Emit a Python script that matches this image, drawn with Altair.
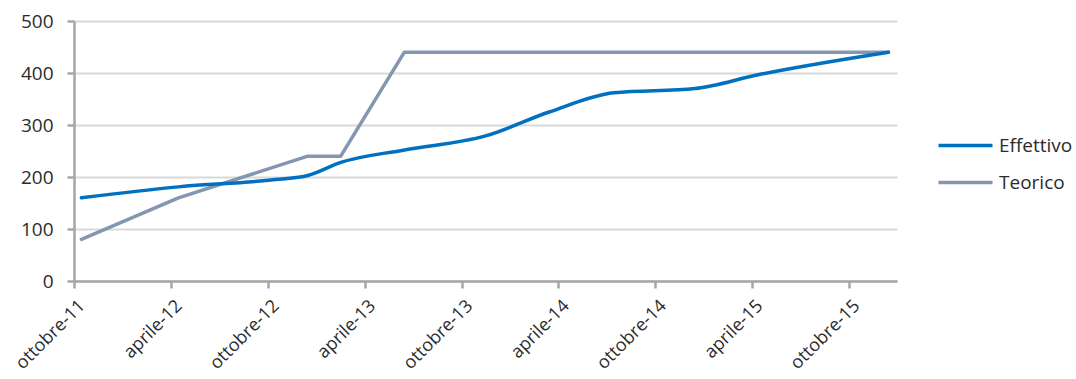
import altair as alt
import pandas as pd

# Series values (dates are mid-month observations)
eff_dates = ["2011-10-15", "2012-04-15", "2012-10-15", "2012-12-15", "2013-02-15",
             "2013-06-15", "2013-11-15", "2014-03-15", "2014-07-15", "2014-12-15",
             "2015-04-15", "2015-12-15"]
eff_values = [160, 181, 195, 203, 228, 252, 279, 325, 362, 370, 397, 440]

teo_dates = ["2011-10-15", "2012-04-15", "2012-12-15", "2013-02-15", "2013-06-15", "2015-12-15"]
teo_values = [80, 160, 240, 240, 440, 440]

series_names = ["Effettivo", "Teorico"]
series_colors = ["#0070C0", "#8496B0"]

# x-axis ticks and their Italian labels
tick_dates = ["2011-10-01", "2012-04-01", "2012-10-01", "2013-04-01", "2013-10-01",
              "2014-04-01", "2014-10-01", "2015-04-01", "2015-10-01"]
tick_labels = ["ottobre-11", "aprile-12", "ottobre-12", "aprile-13", "ottobre-13",
               "aprile-14", "ottobre-14", "aprile-15", "ottobre-15"]
y_ticks = [0, 100, 200, 300, 400, 500]

x_domain = ["2011-10-01", "2015-12-31"]


def ms(d):
    return int(pd.Timestamp(d, tz="UTC").value // 10**6)


tick_ms = [ms(d) for d in tick_dates]
label_expr = "[" + ",".join(f"'{t}'" for t in tick_labels) + "][indexof([" + \
    ",".join(str(t) for t in tick_ms) + "], time(datum.value))]"

df = pd.concat([
    pd.DataFrame({"data": eff_dates, "valore": eff_values, "serie": series_names[0]}),
    pd.DataFrame({"data": teo_dates, "valore": teo_values, "serie": series_names[1]}),
])

FONT = "Open Sans"
TEXT = "#2b2b2b"

x_enc = alt.X(
    "data:T",
    scale=alt.Scale(type="utc", domain=[ms(d) for d in x_domain], nice=False),
    axis=alt.Axis(
        values=tick_ms, labelExpr=label_expr, title=None, grid=False,
        labelAngle=-45, labelAlign="right", labelBaseline="middle",
        labelPadding=15, labelOffset=8,
        tickSize=7, labelFontSize=18, labelFont=FONT, labelColor=TEXT,
        domainColor="#A6A6A6", domainWidth=2.5, tickColor="#A6A6A6", tickWidth=2.5,
        labelOverlap=False, labelBound=False, labelFlush=False,
    ),
)
y_enc = alt.Y(
    "valore:Q",
    scale=alt.Scale(domain=[0, 500], nice=False),
    axis=alt.Axis(
        values=y_ticks, title=None, grid=True, gridColor="#D9D9D9", gridWidth=2,
        tickSize=7, labelPadding=14, labelFontSize=19, labelFont=FONT, labelColor=TEXT,
        domainColor="#A6A6A6", domainWidth=2.5, tickColor="#A6A6A6", tickWidth=2.5,
    ),
)
color_enc = alt.Color(
    "serie:N",
    scale=alt.Scale(domain=series_names, range=series_colors),
    legend=alt.Legend(
        title=None, orient="none", legendX=876, legendY=109, padding=0,
        symbolType="M-2,0L2,0", symbolSize=729, symbolStrokeWidth=3.5,
        labelOffset=18, rowPadding=11,
        labelFont=FONT, labelFontSize=19, labelColor=TEXT,
    ),
)

base = alt.Chart(df).encode(x=x_enc, y=y_enc, color=color_enc)

effettivo = base.transform_filter(alt.datum.serie == series_names[0]).mark_line(
    interpolate="monotone", strokeWidth=3.5, strokeCap="round", strokeJoin="round"
)
teorico = base.transform_filter(alt.datum.serie == series_names[1]).mark_line(
    interpolate="linear", strokeWidth=3.5, strokeCap="round", strokeJoin="round"
)

chart = (
    alt.layer(teorico, effettivo)
    .properties(
        width=823, height=260,
        autosize=alt.AutoSizeParams(type="none"),
        padding={"left": 74, "top": 21, "right": 179, "bottom": 98},
        background="white",
    )
    .configure_view(stroke=None)
)

chart.save("out.html", embed_options={"renderer": "svg", "actions": False})
